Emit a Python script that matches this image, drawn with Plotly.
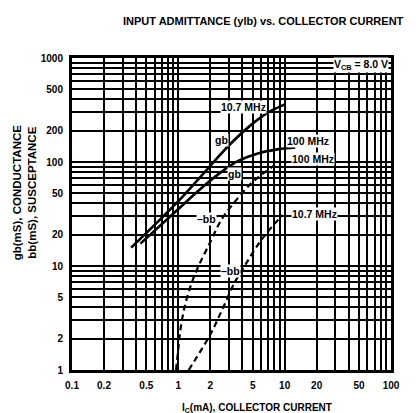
import numpy as np
import plotly.graph_objects as go

# ---- data ----
ic_gb_107 = [0.36, 0.65, 1.0, 2.0, 3.0, 4.9, 7.0, 10.2]
gb_107 = [15, 27, 42, 92, 145, 230, 300, 360]

ic_gb_100 = [0.44, 0.9, 1.85, 2.7, 3.7, 5.3, 8.8, 12.6]
gb_100 = [16.4, 32, 62, 84, 103, 119, 133, 138]

ic_bb_100 = [0.95, 1.0, 1.05, 1.15, 1.33, 1.55, 2.0, 2.55, 3.7, 4.9, 6.1, 7.9, 8.8]
bb_100 = [1.0, 1.6, 2.5, 4.1, 6.8, 10, 17, 28, 46, 63, 76, 92, 99]

ic_bb_107 = [1.25, 2.0, 2.7, 3.4, 4.2, 5.6, 7.5, 9.6]
bb_107 = [1.0, 2.2, 4.2, 7.0, 10.0, 16, 23.5, 31]

x_labels = {0.1: "0.1", 0.2: "0.2", 0.5: "0.5", 1: "1", 2: "2", 5: "5",
            10: "10", 20: "20", 50: "50", 100: "100"}
y_labels = {1: "1", 2: "2", 5: "5", 10: "10", 20: "20", 50: "50",
            100: "100", 200: "200", 500: "500", 1000: "1000"}

FONT = "Liberation Sans, Arial, sans-serif"

def log_grid(lo_exp, hi_exp):
    vals = []
    for e in range(lo_exp, hi_exp):
        for m in range(1, 10):
            vals.append(round(m * 10 ** e, 6))
    vals.append(round(10 ** hi_exp, 6))
    return vals

xt = log_grid(-1, 2)
yt = log_grid(0, 3)

def lookup(d, v):
    for k, t in d.items():
        if abs(k - v) < 1e-9:
            return t
    return ""

xtt = [lookup(x_labels, v) for v in xt]
ytt = [lookup(y_labels, v) for v in yt]

fig = go.Figure()
line_solid = dict(color="black", width=2.6, shape="spline")
line_dash = dict(color="black", width=2.2, dash="6px,4px", shape="spline")

fig.add_trace(go.Scatter(x=ic_gb_107, y=gb_107, mode="lines", line=line_solid, name="gb 10.7 MHz"))
fig.add_trace(go.Scatter(x=ic_gb_100, y=gb_100, mode="lines", line=line_solid, name="gb 100 MHz"))
fig.add_trace(go.Scatter(x=ic_bb_100, y=bb_100, mode="lines", line=line_dash, name="-bb 100 MHz"))
fig.add_trace(go.Scatter(x=ic_bb_107, y=bb_107, mode="lines", line=line_dash, name="-bb 10.7 MHz"))

lab_font = dict(family=FONT, size=10.5, color="black", weight="bold")

def lab(x, y, text, **kw):
    fig.add_annotation(x=np.log10(x), y=np.log10(y), text=text, showarrow=False,
                       xanchor="center", yanchor="middle",
                       font=lab_font, bgcolor="white", borderpad=0, **kw)

lab(4.1, 341, "10.7 MHz")
lab(2.57, 163, "gb")
lab(16.5, 160, "100 MHz")
lab(18.4, 107, "100 MHz")
lab(3.41, 76, "gb")
lab(1.84, 28.1, "\u2013bb")
lab(3.07, 8.95, "\u2013bb")
lab(19.2, 31.5, "10.7 MHz")
lab(52, 853, "V<sub>CB</sub> = 8.0 V")

# titles
fig.add_annotation(xref="paper", yref="paper", x=0.60, y=1.12,
                   xanchor="center", yanchor="middle",
                   text="INPUT ADMITTANCE (ylb) vs. COLLECTOR CURRENT", showarrow=False,
                   font=dict(family=FONT, size=11, color="black", weight="bold"))
fig.add_annotation(xref="paper", yref="paper", x=0.58, y=-0.123,
                   xanchor="center", yanchor="middle",
                   text="I<sub>C</sub>(mA), COLLECTOR CURRENT", showarrow=False,
                   font=dict(family=FONT, size=10, color="black", weight="bold"))
fig.add_annotation(xref="paper", yref="paper", x=-0.15, y=0.57, textangle=-90,
                   xanchor="center", yanchor="middle",
                   text="gb(mS), CONDUCTANCE<br>bb(mS), SUSCEPTANCE", showarrow=False,
                   font=dict(family=FONT, size=11.5, color="black", weight="bold"))

axis_common = dict(type="log", showgrid=True, gridcolor="black", gridwidth=1.6,
                   showline=True, linecolor="black", linewidth=3, mirror=True,
                   ticks="", zeroline=False,
                   tickfont=dict(family=FONT, size=10, color="black", weight="bold"))

fig.update_xaxes(range=[-1, 2], tickmode="array", tickvals=xt, ticktext=xtt,
                 ticklabelstandoff=4, **axis_common)
fig.update_yaxes(range=[0, 3], tickmode="array", tickvals=yt, ticktext=ytt,
                 ticklabelstandoff=4, **axis_common)

fig.update_layout(width=416, height=413, showlegend=False,
                  margin=dict(l=64, r=33, t=50, b=51),
                  paper_bgcolor="white", plot_bgcolor="white")

fig.write_html("out.html")
